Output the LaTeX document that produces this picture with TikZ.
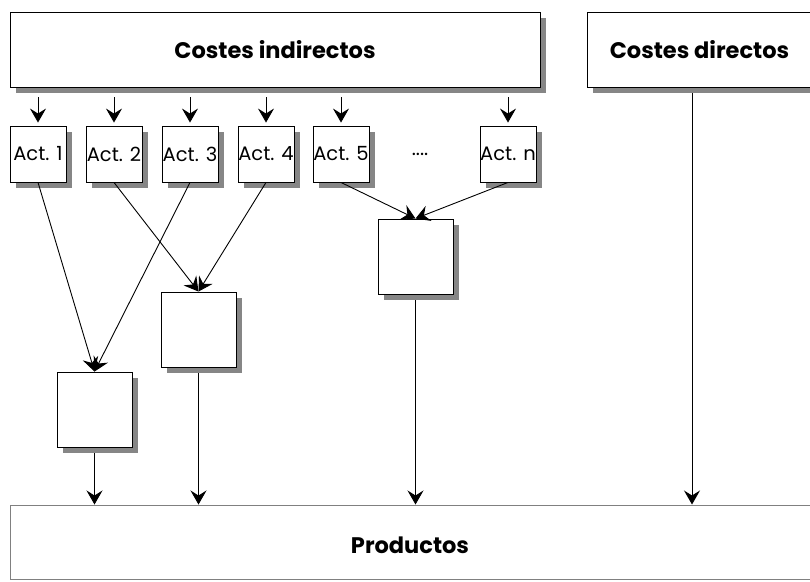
\documentclass[tikz,border=0pt]{standalone}
\usepackage{fontspec}
\setmainfont{Poppins}
\usetikzlibrary{arrows.meta,shadows,calc}
\begin{document}
\begin{tikzpicture}[x=1pt,y=-1pt,
  shade box/.style={draw=black,line width=0.9pt,fill=white,inner sep=0pt,
    drop shadow={shadow xshift=6pt,shadow yshift=-6pt,fill=gray!95,opacity=1}},
  actbox/.style={shade box,minimum width=56pt,minimum height=56pt,font=\fontsize{19.5}{19.5}\selectfont},
  mixbox/.style={shade box,minimum width=75pt,minimum height=75pt},
  headbox/.style={shade box,minimum height=75pt,font=\bfseries\fontsize{22.5}{22.5}\selectfont},
  flow/.style={draw=black,line width=0.9pt,-{Stealth[length=14pt,width=16pt,inset=5pt]}}]
\useasboundingbox (0,0) rectangle (810,581);

% cost pools
\node[headbox,minimum width=530pt] (ind) at (275,49.5) {Costes indirectos};
\node[headbox,minimum width=225pt] (dir) at (699.5,49.5) {Costes directos};

% activities
\node[actbox] (a1) at (38,154) {\hspace*{-3pt}Act. 1\hspace*{-3pt}};
\node[actbox] (a2) at (114,154) {\hspace*{-3pt}Act. 2\hspace*{-3pt}};
\node[actbox] (a3) at (190,154) {\hspace*{-3pt}Act. 3\hspace*{-3pt}};
\node[actbox] (a4) at (266,154) {\hspace*{-3pt}Act. 4\hspace*{-3pt}};
\node[actbox] (a5) at (341,154) {\hspace*{-3pt}Act. 5\hspace*{-3pt}};
\node[font=\fontsize{19.5}{19.5}\selectfont] (dots) at (420,154) {....};
\node[actbox] (an) at (508,154) {\hspace*{-3pt}Act. n\hspace*{-3pt}};

% intermediate cost objects
\node[mixbox] (bA) at (94.5,409.5) {};
\node[mixbox] (bB) at (198.5,329.5) {};
\node[mixbox] (bC) at (415.5,256.5) {};

% products
\node[draw=gray,line width=1pt,minimum width=804pt,minimum height=74pt] (prod) at (412,542) {};
\node[font=\bfseries\fontsize{22.5}{22.5}\selectfont] (prodlabel) at (410,545) {Productos};

% from the indirect cost pool to each activity
\foreach \a in {a1,a2,a3,a4,a5,an}
  \draw[flow] ($(\a.north |- ind.south)+(0,10)$) -- ($(\a.north)+(0,-3)$);

% activities to intermediate objects
\draw[flow] (a1.south) -- (bA.north);
\draw[flow] (a3.south) -- (bA.north);
\draw[flow] (a2.south) -- (bB.north);
\draw[flow] (a4.south) -- (bB.north);
\draw[flow] (a5.south) -- (bC.north);
\draw[flow] (an.south) -- (bC.north);

% into the products
\draw[flow] ($(bA.south)+(0,6)$) -- (bA.south |- prod.north);
\draw[flow] ($(bB.south)+(0,6)$) -- (bB.south |- prod.north);
\draw[flow] ($(bC.south)+(0,6)$) -- (bC.south |- prod.north);
\draw[flow] ($(692,0 |- dir.south)+(0,6)$) -- (692,0 |- prod.north);
\end{tikzpicture}
\end{document}
